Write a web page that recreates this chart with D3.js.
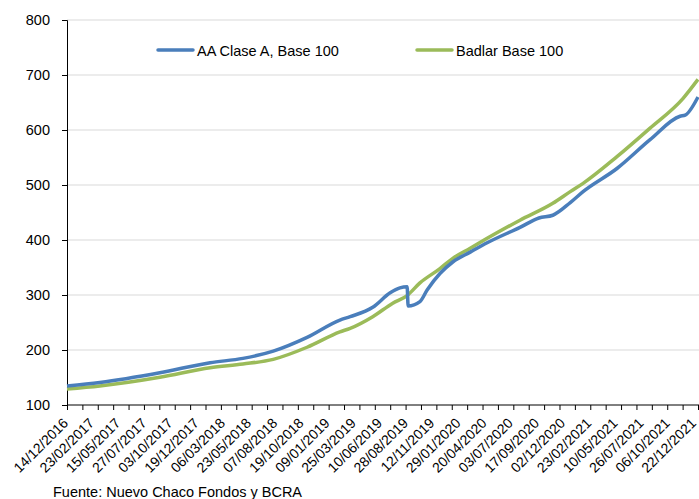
<!DOCTYPE html>
<html><head><meta charset="utf-8">
<script src="https://cdn.jsdelivr.net/npm/d3@7/dist/d3.min.js"></script>
<style>body{margin:0;background:#fff}svg{display:block}text{font-family:"Liberation Sans",Arial,sans-serif;fill:#000}</style>
</head><body><svg id="c" width="699" height="499"></svg>
<script>
// Category labels (every 51st trading day)
const dateLabels = ["14/12/2016","23/02/2017","15/05/2017","27/07/2017","03/10/2017","19/12/2017","06/03/2018","23/05/2018","07/08/2018","19/10/2018","09/01/2019","25/03/2019","10/06/2019","28/08/2019","12/11/2019","29/01/2020","20/04/2020","03/07/2020","17/09/2020","02/12/2020","23/02/2021","10/05/2021","26/07/2021","06/10/2021","22/12/2021"];
const yTicks = [100,200,300,400,500,600,700,800];
const seriesNames = ["AA Clase A, Base 100","Badlar Base 100"];
// Series sampled at trading-day index
const aaIdx = [0,64,181,279,343,402,468,532,552,596,630,649,663,665,688,702,727,752,786,819,883,920,947,981,1006,1072,1136,1195,1205,1230];
const aaVal = [134.5,141,158.7,176.9,184.8,198,223,254.5,260.6,277.6,304,313,315,280,288,309,339,360,378,395,423,440,445,468,488,530,582,625,627,660];
const badIdx = [0,64,181,279,343,402,468,532,552,596,635,663,688,727,752,786,819,883,947,981,1006,1072,1136,1201,1230];
const badVal = [129,134.5,150.3,167.8,174.5,183,205,233,239.4,260.6,285,299,322,348,366.7,385,403,436,466.7,488,503,551.5,603,657.6,692];

const nPoints = 1230, labelEvery = 51, tickEvery = 30;
const svg = d3.select("#c");
const x = d3.scaleLinear().domain([0, nPoints]).range([67, 698]);
const y = d3.scaleLinear().domain([100, 800]).range([405, 20]);

// gridlines
svg.append("g").selectAll("line").data(yTicks.slice(1)).join("line")
  .attr("x1", 67).attr("x2", 699).attr("y1", d => y(d)).attr("y2", d => y(d))
  .attr("stroke", "#d9d9d9").attr("stroke-width", 1);

// y axis
const ya = svg.append("g").attr("transform", "translate(67,0)")
  .call(d3.axisLeft(y).tickValues(yTicks).tickSize(5).tickPadding(12));
ya.select(".domain").attr("stroke", "#000");
ya.selectAll(".tick line").attr("stroke", "#000");
ya.selectAll(".tick text").style("font-size", "14.5px").attr("fill", "#000");

// x axis
const tickIdx = d3.range(0, nPoints + 1, tickEvery);
const xa = svg.append("g").attr("transform", "translate(0,405)")
  .call(d3.axisBottom(x).tickValues(tickIdx).tickSize(5).tickFormat(""));
xa.select(".domain").attr("stroke", "#000").attr("d", "M67,0H699");
xa.selectAll(".tick line").attr("stroke", "#000");
svg.append("g").selectAll("text").data(dateLabels).join("text")
  .attr("transform", (d, i) => `translate(${x(i * labelEvery) - 1},${421}) rotate(-45)`)
  .attr("text-anchor", "end").attr("dy", "0.3em")
  .style("font-size", "14px").text(d => d);

// lines
const line = d3.line().x(d => x(d[0])).y(d => y(d[1])).curve(d3.curveMonotoneX);
const aa = aaIdx.map((d, i) => [d, aaVal[i]]);
const bad = badIdx.map((d, i) => [d, badVal[i]]);
const colors = ["#4a7ebb", "#9bbb59"];
svg.append("path").datum(bad).attr("d", line).attr("fill", "none").attr("stroke", colors[1]).attr("stroke-width", 3.5);
svg.append("path").datum(aa).attr("d", line).attr("fill", "none").attr("stroke", colors[0]).attr("stroke-width", 3.5);

// legend
const legX = [158, 417];
seriesNames.forEach((n, i) => {
  svg.append("line").attr("x1", legX[i]).attr("x2", legX[i] + 35).attr("y1", 50).attr("y2", 50)
    .attr("stroke", colors[i]).attr("stroke-width", 3.5).attr("stroke-linecap", "round");
  svg.append("text").attr("x", legX[i] + 39).attr("y", 56).style("font-size", "14.5px").text(n);
});

// source
svg.append("text").attr("x", 53).attr("y", 497).style("font-size", "14.5px").text("Fuente: Nuevo Chaco Fondos y BCRA");
</script></body></html>
